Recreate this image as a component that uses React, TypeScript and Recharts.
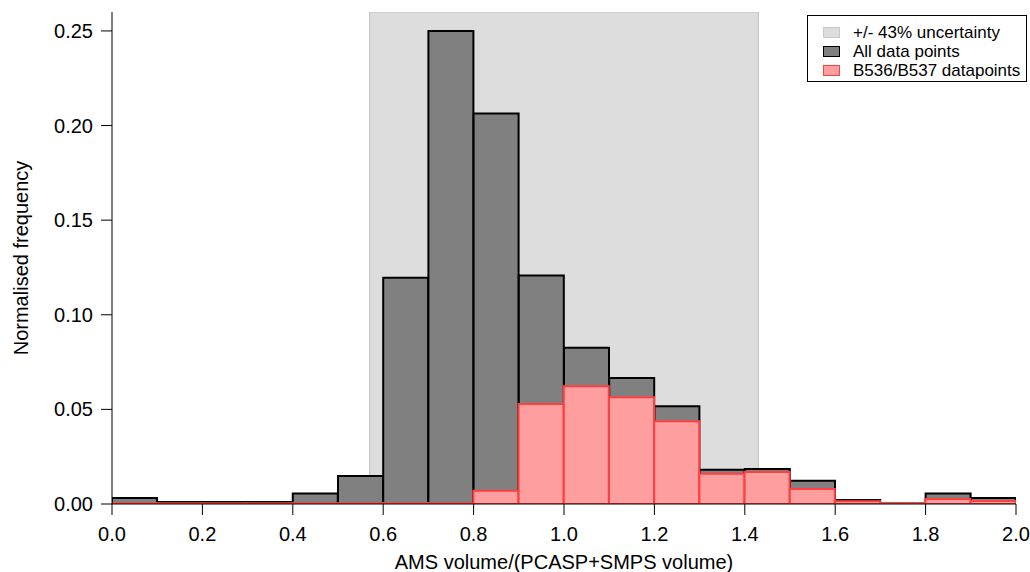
import {
  Bar,
  ComposedChart,
  Legend,
  ReferenceArea,
  XAxis,
  YAxis,
} from "recharts";

// lower edge of each 0.1-wide bin
const binStart = [
  0.0, 0.1, 0.2, 0.3, 0.4, 0.5, 0.6, 0.7, 0.8, 0.9, 1.0, 1.1, 1.2, 1.3, 1.4,
  1.5, 1.6, 1.7, 1.8, 1.9,
];
const binWidth = 0.1;

const allPoints = [
  0.0032, 0.001, 0.001, 0.001, 0.0056, 0.0148, 0.1196, 0.25, 0.2063, 0.1207,
  0.0826, 0.0666, 0.0516, 0.0181, 0.0185, 0.0123, 0.0021, 0.0003, 0.0056,
  0.0032,
];

const b536Points = [
  0.0004, 0.0004, 0.0004, 0.0004, 0.0004, 0.0004, 0.0004, 0.0004, 0.007,
  0.0529, 0.0622, 0.0564, 0.0437, 0.016, 0.0169, 0.0079, 0.0014, 0.0004,
  0.0026, 0.0016,
];

const uncertainty = [0.57, 1.43];

const xTicks = [0, 0.2, 0.4, 0.6, 0.8, 1.0, 1.2, 1.4, 1.6, 1.8, 2.0];
const yTicks = [0, 0.05, 0.1, 0.15, 0.2, 0.25];

const legendItems = [
  { name: "+/- 43% uncertainty", fill: "#dddddd", stroke: "#c8c8c8" },
  { name: "All data points", fill: "#808080", stroke: "#000000" },
  { name: "B536/B537 datapoints", fill: "#ff9e9e", stroke: "#ff4040" },
];

const FONT = "'Liberation Sans', Arial, sans-serif";

const rows = binStart.map((b, i) => ({
  center: +(b + binWidth / 2).toFixed(2),
  all: allPoints[i],
  b536: b536Points[i],
}));

const LegendBox = () => (
  <div
    style={{
      border: "1.5px solid #000",
      background: "#fff",
      width: 220,
      height: 67,
      boxSizing: "border-box",
      padding: "7px 0 0 15px",
      fontFamily: FONT,
      fontSize: 17,
      color: "#000",
    }}
  >
    {legendItems.map((it) => (
      <div
        key={it.name}
        style={{ display: "flex", alignItems: "center", height: 19 }}
      >
        <span
          style={{
            display: "inline-block",
            width: 15,
            height: 9,
            background: it.fill,
            border: `1.5px solid ${it.stroke}`,
            marginRight: 13,
          }}
        />
        <span>{it.name}</span>
      </div>
    ))}
  </div>
);

const App = () => {
  return (
    <div style={{ position: "absolute", left: 0, top: 0 }}>
      <ComposedChart
        width={1030}
        height={572}
        data={rows}
        margin={{ top: 12, right: 14, bottom: 28, left: 12 }}
        barCategoryGap={0}
        barGap="-100%"
        style={{ fontFamily: FONT }}
      >
        <XAxis
          dataKey="center"
          type="number"
          domain={[0, 2]}
          ticks={xTicks}
          allowDataOverflow
          height={40}
          tickSize={11}
          tickMargin={12}
          tickFormatter={(v: number) => v.toFixed(1)}
          stroke="#000"
          tick={{ fill: "#000", fontSize: 20 }}
          label={{
            content: (props: any) => {
              const vb = props.viewBox || {};
              return (
                <text
                  x={vb.x + vb.width / 2}
                  y={569}
                  textAnchor="middle"
                  fontSize={20}
                  fill="#000"
                  fontFamily={FONT}
                >
                  AMS volume/(PCASP+SMPS volume)
                </text>
              );
            },
          }}
        />
        <YAxis
          domain={[0, 0.26]}
          ticks={yTicks}
          width={100}
          allowDataOverflow
          tickSize={11}
          tickMargin={8}
          tickFormatter={(v: number) => v.toFixed(2)}
          stroke="#000"
          tick={{ fill: "#000", fontSize: 20 }}
          label={{
            content: (props: any) => {
              const vb = props.viewBox || {};
              const cy = vb.y + vb.height / 2;
              return (
                <text
                  x={28}
                  y={cy}
                  transform={`rotate(-90, 28, ${cy})`}
                  textAnchor="middle"
                  fontSize={20}
                  fill="#000"
                  fontFamily={FONT}
                >
                  Normalised frequency
                </text>
              );
            },
          }}
        />
        <ReferenceArea
          x1={uncertainty[0]}
          x2={uncertainty[1]}
          y1={0}
          y2={0.26}
          fill="#dddddd"
          fillOpacity={1}
          stroke="#c0c0c0"
          strokeWidth={1}
          ifOverflow="hidden"
        />
        <Bar
          dataKey="all"
          name="All data points"
          fill="#808080"
          stroke="#000"
          strokeWidth={2}
          isAnimationActive={false}
        />
        <Bar
          dataKey="b536"
          name="B536/B537 datapoints"
          fill="#ff9e9e"
          stroke="#ff4040"
          strokeWidth={2}
          isAnimationActive={false}
        />
        <Legend
          layout="horizontal"
          verticalAlign="middle"
          align="center"
          wrapperStyle={{ top: 15, left: 807, width: 220 }}
          content={() => <LegendBox />}
        />
      </ComposedChart>
    </div>
  );
};

export default App;
